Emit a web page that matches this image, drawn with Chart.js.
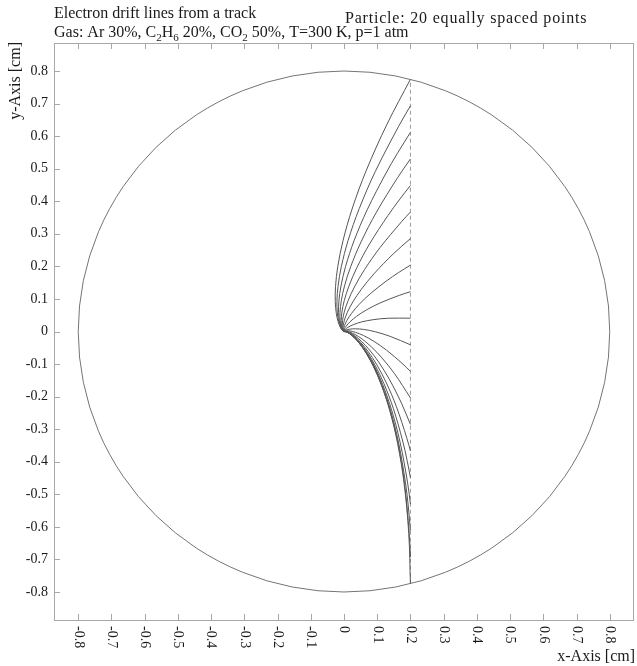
<!DOCTYPE html>
<html><head><meta charset="utf-8">
<script src="https://cdn.jsdelivr.net/npm/chart.js@4.4.1/dist/chart.umd.min.js"></script>
<style>html,body{margin:0;padding:0;background:#fff;}#wrap{width:637px;height:666px;}</style>
</head><body><div id="wrap"><canvas id="c" width="637" height="666"></canvas></div>
<script>
// ---- data ----
const tickValues = [-0.8,-0.7,-0.6,-0.5,-0.4,-0.3,-0.2,-0.1,0,0.1,0.2,0.3,0.4,0.5,0.6,0.7,0.8];
const tickLabels = ['-0.8','-0.7','-0.6','-0.5','-0.4','-0.3','-0.2','-0.1','0','0.1','0.2','0.3','0.4','0.5','0.6','0.7','0.8'];
const xRange = [-0.873, 0.870];
const yRange = [-0.886, 0.886];
const chamberRadius = 0.8;
const trackX = [0.2, 0.2];
const trackY = [-0.7746, 0.7746];

const drift01 = [[0.2,-0.7746],[0.1949,-0.6201],[0.1809,-0.4662],[0.1615,-0.3440],[0.1380,-0.2437],[0.1128,-0.1651],[0.0890,-0.1081],[0.0672,-0.0672],[0.0470,-0.0373],[0.0301,-0.0179],[0.0168,-0.0065],[0.0079,-0.0013],[0,0]];
const drift02 = [[0.2,-0.6931],[0.1964,-0.6196],[0.1820,-0.4657],[0.1623,-0.3436],[0.1386,-0.2433],[0.1132,-0.1649],[0.0892,-0.1079],[0.0673,-0.0670],[0.0471,-0.0372],[0.0301,-0.0178],[0.0168,-0.0065],[0.0079,-0.0013],[0,0]];
const drift03 = [[0.2,-0.6115],[0.1935,-0.5361],[0.1851,-0.4645],[0.1645,-0.3425],[0.1401,-0.2424],[0.1143,-0.1641],[0.0900,-0.1073],[0.0678,-0.0666],[0.0473,-0.0369],[0.0303,-0.0176],[0.0168,-0.0064],[0.0079,-0.0013],[0,0]];
const drift04 = [[0.2,-0.5300],[0.1911,-0.4621],[0.1689,-0.3404],[0.1432,-0.2406],[0.1164,-0.1627],[0.0913,-0.1061],[0.0686,-0.0657],[0.0478,-0.0363],[0.0305,-0.0172],[0.0169,-0.0061],[0.0079,-0.0012],[0,0]];
const drift05 = [[0.2,-0.4485],[0.1902,-0.3968],[0.1767,-0.3364],[0.1488,-0.2372],[0.1201,-0.1599],[0.0937,-0.1040],[0.0701,-0.0641],[0.0486,-0.0351],[0.0309,-0.0165],[0.0171,-0.0057],[0.0079,-0.0010],[0,0]];
const drift06 = [[0.2,-0.3669],[0.1897,-0.3292],[0.1579,-0.2312],[0.1263,-0.1551],[0.0977,-0.1003],[0.0726,-0.0613],[0.0500,-0.0332],[0.0315,-0.0153],[0.0173,-0.0051],[0.0080,-0.0007],[0,0]];
const drift07 = [[0.2,-0.2854],[0.1730,-0.2201],[0.1363,-0.1463],[0.1042,-0.0935],[0.0765,-0.0563],[0.0521,-0.0298],[0.0324,-0.0131],[0.0176,-0.0039],[0.0080,-0.0001],[0,0]];
const drift08 = [[0.2,-0.2038],[0.1522,-0.1297],[0.1142,-0.0810],[0.0825,-0.0472],[0.0551,-0.0236],[0.0337,-0.0093],[0.0179,-0.0019],[0.0080,0.0008],[0,0]];
const drift09 = [[0.2,-0.1223],[0.1746,-0.0975],[0.1278,-0.0571],[0.0901,-0.0302],[0.0587,-0.0124],[0.0349,-0.0026],[0.0179,0.0017],[0.0077,0.0023],[0,0]];
const drift10 = [[0.2,-0.0408],[0.1392,-0.0150],[0.0950,-0.0010],[0.0597,0.0063],[0.0340,0.0083],[0.0165,0.0071],[0.0066,0.0046],[0,0]];
const drift11 = [[0.2,0.0408],[0.1339,0.0408],[0.0878,0.0363],[0.0524,0.0292],[0.0280,0.0210],[0.0124,0.0130],[0.0042,0.0068],[0,0]];
const drift12 = [[0.2,0.1223],[0.1664,0.1110],[0.1091,0.0878],[0.0679,0.0665],[0.0378,0.0466],[0.0182,0.0299],[0.0067,0.0167],[0.0014,0.0079],[0,0]];
const drift13 = [[0.2,0.2038],[0.1648,0.1813],[0.1269,0.1546],[0.0788,0.1157],[0.0456,0.0833],[0.0226,0.0556],[0.0087,0.0339],[0.0015,0.0179],[-0.0009,0.0079],[0,0]];
const drift14 = [[0.2,0.2854],[0.1478,0.2378],[0.0910,0.1781],[0.0524,0.1298],[0.0268,0.0911],[0.0102,0.0591],[0.0013,0.0350],[-0.0023,0.0178],[-0.0026,0.0076],[0,0]];
const drift15 = [[0.2,0.3669],[0.1739,0.3379],[0.1087,0.2580],[0.0619,0.1902],[0.0313,0.1365],[0.0122,0.0942],[0.0008,0.0600],[-0.0042,0.0347],[-0.0051,0.0173],[-0.0038,0.0071],[0,0]];
const drift16 = [[0.2,0.4485],[0.1682,0.4066],[0.1323,0.3562],[0.0771,0.2692],[0.0387,0.1962],[0.0148,0.1392],[0.0008,0.0950],[-0.0063,0.0597],[-0.0083,0.0340],[-0.0071,0.0165],[-0.0046,0.0066],[0,0]];
const drift17 = [[0.2,0.5300],[0.1618,0.4731],[0.0980,0.3671],[0.0514,0.2752],[0.0201,0.1990],[0.0016,0.1400],[-0.0081,0.0946],[-0.0120,0.0588],[-0.0115,0.0331],[-0.0087,0.0158],[-0.0052,0.0061],[0,0]];
const drift18 = [[0.2,0.6115],[0.1606,0.5469],[0.1252,0.4841],[0.0697,0.3735],[0.0302,0.2784],[0.0048,0.1999],[-0.0091,0.1397],[-0.0153,0.0938],[-0.0164,0.0577],[-0.0140,0.0321],[-0.0098,0.0151],[-0.0056,0.0057],[0,0]];
const drift19 = [[0.2,0.6931],[0.1639,0.6290],[0.0941,0.4911],[0.0458,0.3772],[0.0124,0.2797],[-0.0079,0.1998],[-0.0180,0.1388],[-0.0213,0.0926],[-0.0200,0.0566],[-0.0160,0.0311],[-0.0108,0.0144],[-0.0060,0.0053],[0,0]];
const drift20 = [[0.2,0.7746],[0.1296,0.6369],[0.0674,0.4954],[0.0253,0.3792],[-0.0027,0.2800],[-0.0188,0.1991],[-0.0255,0.1377],[-0.0263,0.0913],[-0.0231,0.0554],[-0.0177,0.0302],[-0.0115,0.0138],[-0.0063,0.0050],[0,0]];

const driftLines = [drift01,drift02,drift03,drift04,drift05,drift06,drift07,drift08,drift09,drift10,
                    drift11,drift12,drift13,drift14,drift15,drift16,drift17,drift18,drift19,drift20];

const titleLine1 = 'Electron drift lines from a track';
const titleRight = 'Particle: 20 equally spaced points';
const titleLine2 = [['Gas: Ar 30%, C',0],['2',1],['H',0],['6',1],[' 20%, CO',0],['2',1],[' 50%, T=300 K, p=1 atm',0]];
const xTitle = 'x-Axis [cm]';
const yTitle = 'y-Axis [cm]';

// ---- chart ----
const SERIF = '"Liberation Serif", "Times New Roman", serif';
const datasets = driftLines.map(l => ({
  data: l.map(p => ({x: p[0], y: p[1]})),
  showLine: true, borderColor: '#555555', borderWidth: 1, pointRadius: 0, tension: 0.35, fill: false
}));
datasets.push({
  data: trackX.map((v, i) => ({x: v, y: trackY[i]})),
  showLine: true, borderColor: '#9a9a9a', borderWidth: 1, borderDash: [4, 3], pointRadius: 0, fill: false
});

const decor = {
  id: 'decor',
  beforeDatasetsDraw(chart) {
    const {ctx, scales: {x, y}} = chart;
    const cx = x.getPixelForValue(0), cy = y.getPixelForValue(0);
    const rx = x.getPixelForValue(chamberRadius) - cx;
    const ry = cy - y.getPixelForValue(chamberRadius);
    ctx.save();
    ctx.beginPath(); ctx.ellipse(cx, cy, rx, ry, 0, 0, 2 * Math.PI);
    ctx.strokeStyle = '#747474'; ctx.lineWidth = 1; ctx.stroke();
    ctx.restore();
  },
  afterDraw(chart) {
    const {ctx, chartArea: a, scales: {x, y}} = chart;
    ctx.save();
    ctx.strokeStyle = '#a8a8a8'; ctx.lineWidth = 1;
    ctx.strokeRect(Math.round(a.left) + 0.5, Math.round(a.top) + 0.5, Math.round(a.right - a.left), Math.round(a.bottom - a.top));
    const TL = 6;
    ctx.beginPath();
    tickValues.forEach(v => {
      const px = Math.round(x.getPixelForValue(v)) + 0.5;
      ctx.moveTo(px, a.bottom); ctx.lineTo(px, a.bottom - TL);
      ctx.moveTo(px, a.top); ctx.lineTo(px, a.top + TL);
      const py = Math.round(y.getPixelForValue(v)) + 0.5;
      ctx.moveTo(a.left, py); ctx.lineTo(a.left + TL, py);
    });
    ctx.stroke();
    ctx.fillStyle = '#1a1a1a';
    ctx.font = '14px ' + SERIF;
    // y tick labels
    ctx.textAlign = 'right'; ctx.textBaseline = 'middle';
    tickValues.forEach((v, i) => ctx.fillText(tickLabels[i], a.left - 6, y.getPixelForValue(v)));
    // x tick labels (rotated clockwise)
    tickValues.forEach((v, i) => {
      ctx.save();
      ctx.translate(x.getPixelForValue(v), a.bottom + 6);
      ctx.rotate(Math.PI / 2);
      ctx.textAlign = 'left'; ctx.textBaseline = 'middle';
      ctx.fillText(tickLabels[i], 0, 0);
      ctx.restore();
    });
    // axis titles
    ctx.font = '16px ' + SERIF;
    ctx.textAlign = 'right'; ctx.textBaseline = 'alphabetic';
    ctx.fillText(xTitle, 635, 661);
    ctx.save();
    ctx.translate(20, 42); ctx.rotate(-Math.PI / 2);
    ctx.textAlign = 'right'; ctx.fillText(yTitle, 0, 0);
    ctx.restore();
    // titles
    ctx.textAlign = 'left';
    ctx.fillText(titleLine1, 54, 18);
    ctx.save();
    if ('letterSpacing' in ctx) ctx.letterSpacing = '0.8px';
    ctx.fillText(titleRight, 345, 23);
    ctx.restore();
    let tx = 54;
    titleLine2.forEach(([t, sub]) => {
      ctx.font = (sub ? '11px ' : '16px ') + SERIF;
      ctx.fillText(t, tx, sub ? 41 : 37);
      tx += ctx.measureText(t).width;
    });
    ctx.restore();
  }
};

new Chart(document.getElementById('c'), {
  type: 'scatter',
  data: {datasets},
  options: {
    responsive: false, animation: false,
    layout: {padding: {left: 54, top: 43, right: 4, bottom: 46}},
    plugins: {legend: {display: false}, tooltip: {enabled: false}},
    scales: {
      x: {type: 'linear', display: false, min: xRange[0], max: xRange[1]},
      y: {type: 'linear', display: false, min: yRange[0], max: yRange[1]}
    }
  },
  plugins: [decor]
});
</script>
</body></html>
